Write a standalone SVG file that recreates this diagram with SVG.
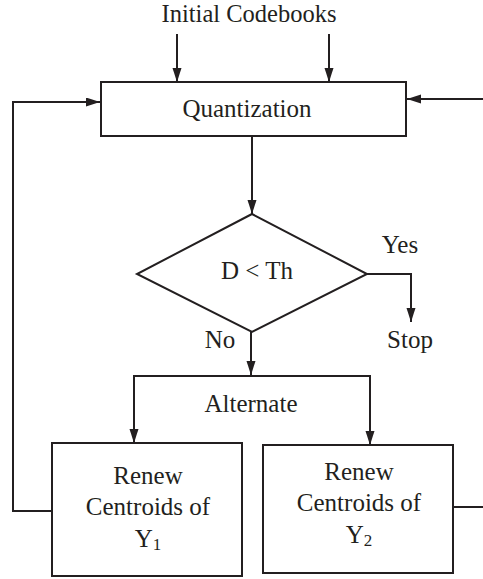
<svg xmlns="http://www.w3.org/2000/svg" width="483" height="579" viewBox="0 0 483 579">
<style>
  .box { fill: #fff; stroke: #231f20; stroke-width: 2; }
  .ln { fill: none; stroke: #231f20; stroke-width: 2; }
  .t { font-family: "Liberation Serif", "Times New Roman", serif; font-size: 25px; fill: #231f20; text-anchor: middle; }
  .sub { font-size: 17px; }
</style>
<defs>
  <marker id="ah" markerUnits="userSpaceOnUse" markerWidth="15" markerHeight="10" refX="14" refY="4.5" orient="auto">
    <path d="M0,0 L14,4.5 L0,9 z" fill="#231f20"/>
  </marker>
</defs>
<rect width="483" height="579" fill="#fff"/>
<g id="connectors">
  <line class="ln" x1="177" y1="34" x2="177" y2="82" marker-end="url(#ah)"/>
  <line class="ln" x1="329" y1="34" x2="329" y2="82" marker-end="url(#ah)"/>
  <line class="ln" x1="483" y1="99" x2="407" y2="99" marker-end="url(#ah)"/>
  <line class="ln" x1="252" y1="136" x2="252" y2="214" marker-end="url(#ah)"/>
  <polyline class="ln" points="367,274 411,274 411,322" marker-end="url(#ah)"/>
  <line class="ln" x1="251" y1="332" x2="251" y2="375" marker-end="url(#ah)"/>
  <line class="ln" x1="133" y1="376" x2="371" y2="376"/>
  <polyline class="ln" points="134,376 134,443" marker-end="url(#ah)"/>
  <polyline class="ln" points="370,376 370,445" marker-end="url(#ah)"/>
  <polyline class="ln" points="51,511 13,511 13,102 100,102" marker-end="url(#ah)"/>
  <line class="ln" x1="453" y1="507" x2="483" y2="507"/>
</g>
<g id="initial">
  <text class="t" x="249" y="21.5" style="font-size:24.5px">Initial Codebooks</text>
</g>
<g id="quantization">
  <rect class="box" x="101" y="82" width="305" height="54"/>
  <text class="t" x="247" y="117">Quantization</text>
</g>
<g id="decision">
  <polygon class="box" points="252,214 367,274 252,332 137,274"/>
  <text class="t" x="257" y="279">D &lt; Th</text>
</g>
<g id="labels">
  <text class="t" x="400" y="253">Yes</text>
  <text class="t" x="410" y="348">Stop</text>
  <text class="t" x="220" y="348">No</text>
  <text class="t" x="251" y="412">Alternate</text>
</g>
<g id="renew1">
  <rect class="box" x="52" y="443" width="190" height="133"/>
  <text class="t" x="148" y="484">Renew</text>
  <text class="t" x="148" y="515">Centroids of</text>
  <text class="t" x="148" y="547">Y<tspan class="sub" dy="3">1</tspan></text>
</g>
<g id="renew2">
  <rect class="box" x="263" y="445" width="190" height="128"/>
  <text class="t" x="359" y="480">Renew</text>
  <text class="t" x="359" y="511">Centroids of</text>
  <text class="t" x="359" y="543">Y<tspan class="sub" dy="3">2</tspan></text>
</g>
</svg>
